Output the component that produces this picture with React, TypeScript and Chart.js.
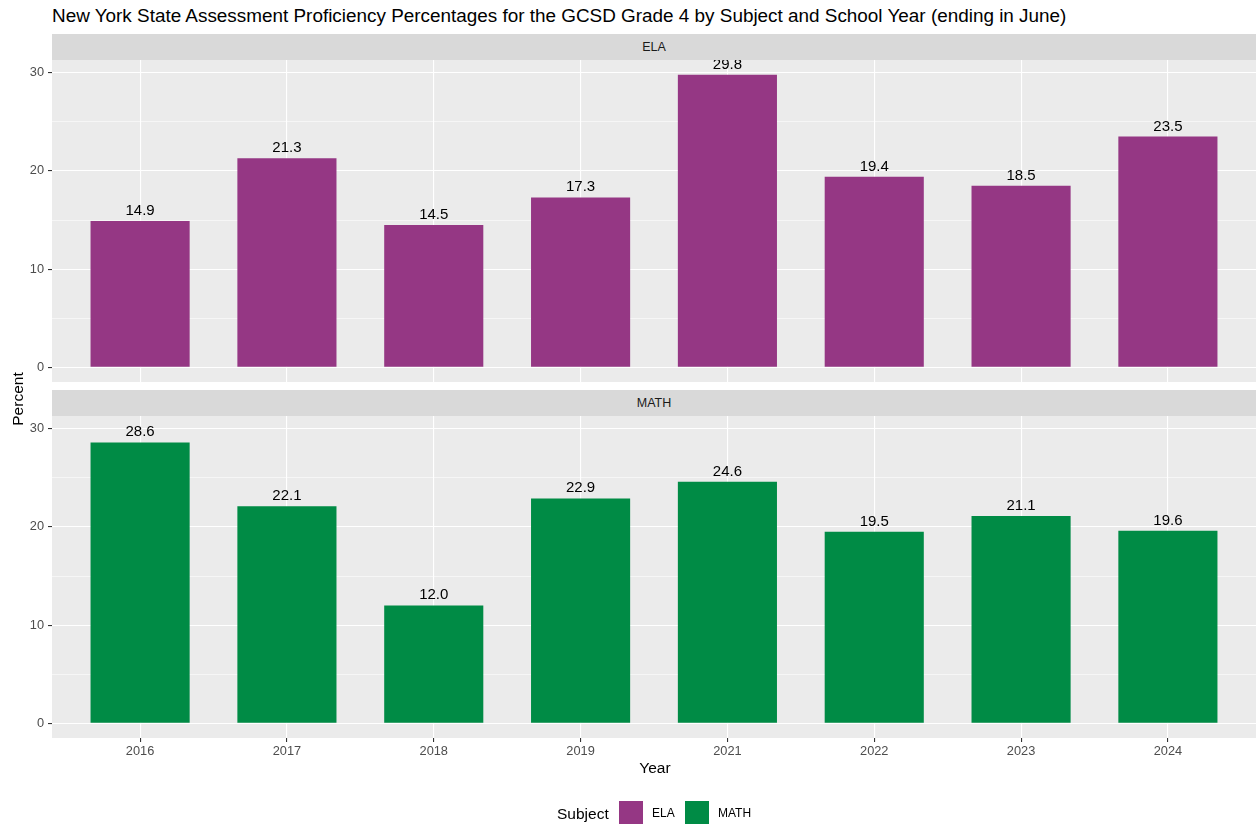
import React, { useEffect, useRef } from "react";
import { Chart, registerables } from "chart.js";

Chart.register(...registerables);

const years = ["2016", "2017", "2018", "2019", "2021", "2022", "2023", "2024"];
const elaValues = [14.9, 21.3, 14.5, 17.3, 29.8, 19.4, 18.5, 23.5];
const mathValues = [28.6, 22.1, 12.0, 22.9, 24.6, 19.5, 21.1, 19.6];
const yTicks = [0, 5, 10, 15, 20, 25, 30];
const yMajor = [0, 10, 20, 30];

const FONT = "'Liberation Sans', Arial, Helvetica, sans-serif";
const ELA_COLOR = "#953784";
const MATH_COLOR = "#008B45";
const TICK_SIZE = 12.8;

const bgPlugin = {
  id: "panelBg",
  beforeDraw(chart: any) {
    const { ctx, chartArea } = chart;
    ctx.save();
    ctx.fillStyle = "#EBEBEB";
    ctx.fillRect(chartArea.left, chartArea.top, chartArea.right - chartArea.left, chartArea.bottom - chartArea.top);
    ctx.restore();
  },
};

const labelPlugin = {
  id: "barLabels",
  afterDatasetsDraw(chart: any) {
    const { ctx, chartArea } = chart;
    const meta = chart.getDatasetMeta(0);
    const ds = chart.data.datasets[0].data as any[];
    ctx.save();
    ctx.beginPath();
    ctx.rect(chartArea.left, chartArea.top, chartArea.right - chartArea.left, chartArea.bottom - chartArea.top);
    ctx.clip();
    ctx.fillStyle = "#000000";
    ctx.font = `15px ${FONT}`;
    ctx.textAlign = "center";
    ctx.textBaseline = "alphabetic";
    meta.data.forEach((bar: any, i: number) => {
      ctx.fillText(Number(ds[i].y).toFixed(1), bar.x, bar.y - 6);
    });
    ctx.restore();
  },
};

function Panel({ values, color, showX, top, height }: { values: number[]; color: string; showX: boolean; top: number; height: number }) {
  const ref = useRef<HTMLCanvasElement>(null);
  useEffect(() => {
    if (!ref.current) return;
    const chart = new Chart(ref.current, {
      type: "bar",
      data: {
        datasets: [
          {
            data: values.map((v, i) => ({ x: i, y: v })),
            backgroundColor: color,
            borderWidth: 0,
            barPercentage: 0.675,
            categoryPercentage: 1,
          } as any,
        ],
      },
      options: {
        animation: false,
        responsive: false,
        maintainAspectRatio: false,
        layout: { padding: 0 },
        plugins: { legend: { display: false }, tooltip: { enabled: false } },
        scales: {
          x: {
            type: "linear",
            min: -0.6,
            max: 7.6,
            offset: false,
            grid: {
              offset: false,
              color: "#FFFFFF",
              lineWidth: 1.1,
              drawTicks: showX,
              tickLength: 4,
              tickColor: "#333333",
            },
            border: { display: false },
            ticks: {
              display: showX,
              color: "#4D4D4D",
              font: { size: TICK_SIZE, family: FONT },
              padding: 2,
              maxRotation: 0,
              callback: (v: any) => years[Math.round(Number(v))] ?? "",
            },
            afterBuildTicks: (s: any) => {
              s.ticks = years.map((_, i) => ({ value: i }));
            },
            afterFit: (s: any) => {
              s.height = showX ? 30 : 0;
              s.paddingLeft = 0;
              s.paddingRight = 0;
            },
          } as any,
          y: {
            min: -1.49,
            max: 31.29,
            grid: {
              color: "#FFFFFF",
              lineWidth: (c: any) => (c.tick && yMajor.includes(c.tick.value) ? 1.1 : 0.55),
              tickColor: (c: any) => (c.tick && yMajor.includes(c.tick.value) ? "#333333" : "rgba(0,0,0,0)"),
              tickWidth: 1.1,
              tickLength: 4,
            },
            border: { display: false },
            ticks: {
              color: "#4D4D4D",
              font: { size: TICK_SIZE, family: FONT },
              padding: 4,
              callback: (v: any) => (yMajor.includes(Number(v)) ? String(v) : ""),
            },
            afterBuildTicks: (s: any) => {
              s.ticks = yTicks.map((v) => ({ value: v }));
            },
            afterFit: (s: any) => {
              s.width = 52;
              s.paddingTop = 0;
              s.paddingBottom = 0;
            },
          } as any,
        },
      },
      plugins: [bgPlugin, labelPlugin],
    });
    return () => chart.destroy();
  }, []);
  return (
    <canvas
      ref={ref}
      width={1256}
      height={height}
      style={{ position: "absolute", left: 0, top, width: 1256, height }}
    />
  );
}

function Strip({ label, top }: { label: string; top: number }) {
  return (
    <div
      style={{
        position: "absolute",
        left: 52,
        top,
        width: 1204,
        height: 26,
        background: "#D9D9D9",
        color: "#1A1A1A",
        fontFamily: FONT,
        fontSize: 12.5,
        lineHeight: "26px",
        textAlign: "center",
      }}
    >
      {label}
    </div>
  );
}

function Txt({ text, left, top, size, width, align, color }: any) {
  return (
    <div
      style={{
        position: "absolute",
        left,
        top,
        width,
        fontFamily: FONT,
        fontSize: size,
        lineHeight: `${size}px`,
        textAlign: align || "left",
        color: color || "#000000",
        whiteSpace: "nowrap",
      }}
    >
      {text}
    </div>
  );
}

export default function App() {
  return (
    <div style={{ position: "absolute", left: 0, top: 0, width: 1256, height: 825, background: "#FFFFFF", overflow: "hidden" }}>
      <Txt text="New York State Assessment Proficiency Percentages for the GCSD Grade 4 by Subject and School Year (ending in June)" left={52} top={6.5} size={18.9} />
      <Strip label="ELA" top={34} />
      <Panel values={elaValues} color={ELA_COLOR} showX={false} top={60} height={322} />
      <Strip label="MATH" top={390} />
      <Panel values={mathValues} color={MATH_COLOR} showX={true} top={416} height={352} />
      <Txt text="Year" left={555} top={759.6} size={15.5} width={200} align="center" />
      <div
        style={{
          position: "absolute",
          left: 18 - 100,
          top: 399 - 9,
          width: 200,
          height: 18,
          transform: "rotate(-90deg)",
          fontFamily: FONT,
          fontSize: 15.5,
          lineHeight: "18px",
          textAlign: "center",
          color: "#000000",
        }}
      >
        Percent
      </div>
      <Txt text="Subject" left={557} top={806} size={15.5} />
      <div style={{ position: "absolute", left: 619, top: 801, width: 24, height: 23, background: ELA_COLOR }} />
      <Txt text="ELA" left={652} top={806.5} size={12} />
      <div style={{ position: "absolute", left: 685, top: 801, width: 24, height: 23, background: MATH_COLOR }} />
      <Txt text="MATH" left={718} top={806.5} size={12} />
    </div>
  );
}
